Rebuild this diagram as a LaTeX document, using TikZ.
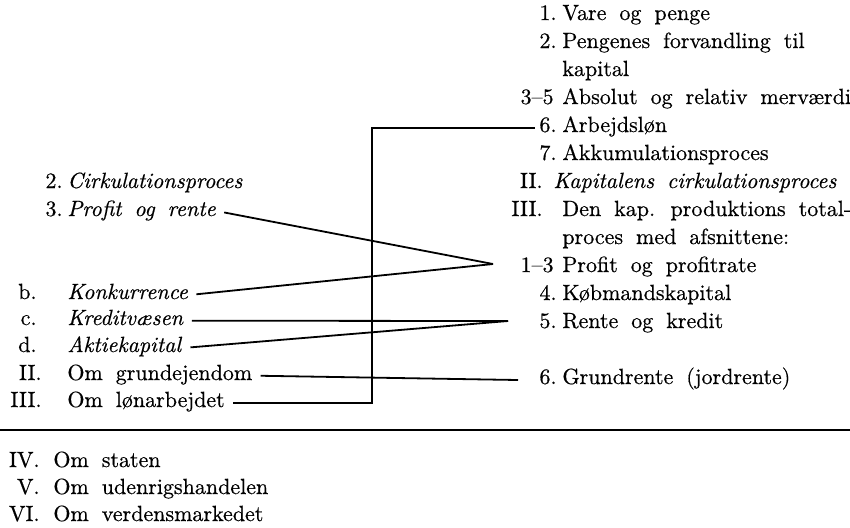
\documentclass[tikz,border=0pt]{standalone}
\usepackage{fontspec}
\setmainfont{Latin Modern Roman}[FakeBold=0.5]
\usepackage{tikz}
\newcommand{\wordgap}{\spaceskip=6.5pt plus 1pt\relax}

\begin{document}
\begin{tikzpicture}[
      x=0.5pt,y=-0.5pt,
      every node/.style={inner xsep=2pt,inner ysep=0pt,
        font=\fontsize{11}{14}\selectfont\wordgap},
      num/.style={anchor=base east},
      txt/.style={anchor=base west},
      link/.style={line width=0.9pt,shorten <=2pt},
      rule/.style={line width=0.8pt}
    ]
      \useasboundingbox (0,0) rectangle (850,527);
      \foreach \y/\xn/\n/\xt/\t [count=\i] in {
          20/561/1./558/Vare og penge,
          48/561/2./558/Pengenes forvandling til,
          76/561/{}/558/kapital,
          104/558/3–5/558/Absolut og relativ merværdi,
          132/561/6./558/Arbejdsløn,
          160/561/7./558/Akkumulationsproces,
          188/547/II./549/\textit{Kapitalens cirkulationsproces},
          216/547/III./558/Den kap. produktions total-,
          244/547/{}/558/proces med afsnittene:,
          272/558/1–3/558/Profit og profitrate,
          300/561/4./558/Købmandskapital,
          328/561/5./558/Rente og kredit,
          384/561/6./558/Grundrente (jordrente)}
        {\node[num] (rn\i) at (\xn,\y) {\n};
         \node[txt] (rt\i) at (\xt,\y) {\t};}
      \foreach \y/\xn/\n/\t [count=\i] in {
          188/67/2./\textit{Cirkulationsproces},
          216/67/3./\textit{Profit og rente},
          299/41/b./\textit{Konkurrence},
          325/41/c./\textit{Kreditvæsen},
          352/41/d./\textit{Aktiekapital},
          380/46/II./Om grundejendom,
          407/46/III./Om lønarbejdet}
        {\node[num] (ln\i) at (\xn,\y) {\n};
         \node[txt] (lt\i) at (63,\y) {\t};}
      \foreach \y/\n/\t [count=\i] in {
          467/IV./Om staten,
          494/V./Om udenrigshandelen,
          521/VI./Om verdensmarkedet}
        {\node[num] (bn\i) at (44,\y) {\n};
         \node[txt] (bt\i) at (49,\y) {\t};}
      \coordinate (m1) at (493,264);
      \coordinate (m2) at (508,321);
      \coordinate (g) at (518,380);
      \coordinate (bend) at (372,0);
      \draw[link] (lt2.mid east) -- (m1);
      \draw[link] (lt3.mid east) -- (m1);
      \draw[link] (lt4.mid east) -- (m2);
      \draw[link] (lt5.mid east) -- (m2);
      \draw[link] (lt6.mid east) -- (g);
      \draw[link] (lt7.mid east) -- (bend |- lt7.mid east) |- (rn5.mid west);
      \draw[rule] (0,430) -- (850,430);
    \end{tikzpicture}
\end{document}
